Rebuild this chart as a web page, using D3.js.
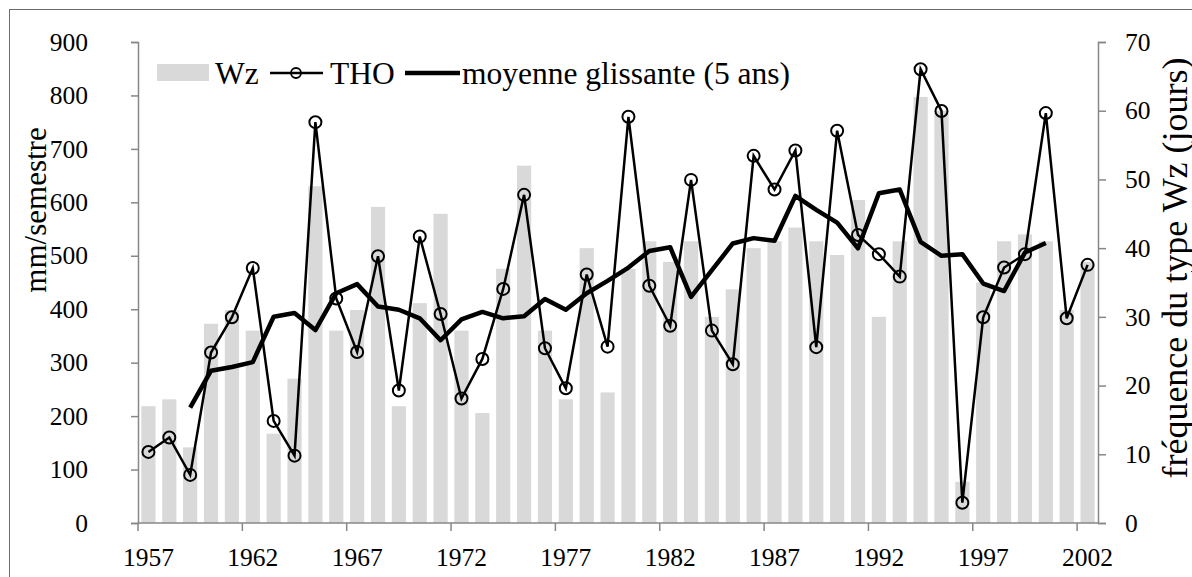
<!DOCTYPE html>
<html>
<head>
  <meta charset="utf-8">
  <script src="https://d3js.org/d3.v7.min.js"></script>
  <style>
    body { margin: 0; background: #fff; }
    text { font-family: "Liberation Serif", "Times New Roman", serif; fill: #000; }
  </style>
</head>
<body>
<script>
  // years (categories)
  var years = [1957,1958,1959,1960,1961,1962,1963,1964,1965,1966,1967,1968,1969,1970,1971,1972,
               1973,1974,1975,1976,1977,1978,1979,1980,1981,1982,1983,1984,1985,1986,1987,1988,
               1989,1990,1991,1992,1993,1994,1995,1996,1997,1998,1999,2000,2001,2002];

  // Wz frequency (days), right axis
  var wz = [17,18,11,29,31,28,13,21,49,28,31,46,17,32,45,28,16,37,52,28,18,40,19,37,
            41,38,41,30,34,40,41,43,41,39,47,30,41,62,60,6,35,41,42,41,31,38];

  // THO precipitation (mm/semestre), left axis
  var tho = [133,160,90,319,385,477,191,126,750,420,320,499,248,536,391,233,307,438,614,327,
             252,465,330,760,444,369,642,360,297,687,624,697,329,734,539,503,461,849,771,38,
             385,478,503,767,383,483];

  // moving average (5 years)
  var moy = [null,null,216,285,292,301,386,393,361,430,447,405,399,383,342,381,395,383,387,419,
             399,430,453,478,509,516,423,473,523,533,528,612,586,562,514,617,624,526,500,503,
             448,434,506,524,null,null];

  var leftTicks = [0,100,200,300,400,500,600,700,800,900];
  var rightTicks = [0,10,20,30,40,50,60,70];
  var labelYears = [1957,1962,1967,1972,1977,1982,1987,1992,1997,2002];

  var W = 1192, H = 577;
  var pLeft = 138, pRight = 1098, pTop = 42, pBottom = 523;

  var svg = d3.select("body").append("svg")
      .attr("width", W).attr("height", H);

  svg.append("rect").attr("x", 0).attr("y", 0).attr("width", W).attr("height", H).attr("fill", "#fff");
  // chart frame (clipped on right and bottom)
  svg.append("rect")
      .attr("x", 9.5).attr("y", 9.5).attr("width", 1220).attr("height", 620)
      .attr("fill", "none").attr("stroke", "#6b6b6b").attr("stroke-width", 1);

  var x = d3.scaleBand().domain(years).range([pLeft, pRight]).paddingInner(0.32).paddingOuter(0.16);
  var yL = d3.scaleLinear().domain([0, 900]).range([pBottom, pTop]);
  var yR = d3.scaleLinear().domain([0, 70]).range([pBottom, pTop]);
  var slot = function(d) { return x(d) - x.step() * x.paddingInner() / 2; };
  var cx = function(i) { return x(years[i]) + x.bandwidth() / 2; };

  // bars
  svg.append("g").selectAll("rect").data(wz).join("rect")
      .attr("x", function(d, i) { return x(years[i]); })
      .attr("y", function(d) { return yR(d); })
      .attr("width", x.bandwidth())
      .attr("height", function(d) { return yR(0) - yR(d); })
      .attr("fill", "#d9d9d9");

  var axisColor = "#878787";

  // left axis
  var gl = svg.append("g").attr("transform", "translate(" + pLeft + ",0)")
      .call(d3.axisLeft(yL).tickValues(leftTicks).tickSize(7).tickPadding(43));
  // right axis
  var gr = svg.append("g").attr("transform", "translate(" + pRight + ",0)")
      .call(d3.axisRight(yR).tickValues(rightTicks).tickSize(8).tickPadding(19));
  // bottom axis: labels centred on the year, tick marks on category edges
  var gb = svg.append("g").attr("transform", "translate(0," + pBottom + ")")
      .call(d3.axisBottom(x).tickValues(labelYears).tickSize(0).tickPadding(24.5));
  gb.select(".domain").remove();
  gb.append("line").attr("x1", pLeft).attr("x2", pRight).attr("y1", 0).attr("y2", 0);
  gb.selectAll(".edge").data(labelYears).join("line").attr("class", "edge")
      .attr("x1", slot).attr("x2", slot).attr("y1", 0).attr("y2", 8);

  [gl, gr, gb].forEach(function(g) {
    g.selectAll("path, line").attr("stroke", axisColor).attr("stroke-width", 1.5);
    g.selectAll("text").attr("font-size", 25.5).attr("fill", "#000");
  });

  // THO line with circles
  var lineL = d3.line()
      .defined(function(d) { return d != null; })
      .x(function(d, i) { return cx(i); })
      .y(function(d) { return yL(d); });

  svg.append("path").datum(tho).attr("d", lineL)
      .attr("fill", "none").attr("stroke", "#000").attr("stroke-width", 2.5);
  svg.append("g").selectAll("circle").data(tho).join("circle")
      .attr("cx", function(d, i) { return cx(i); })
      .attr("cy", function(d) { return yL(d); })
      .attr("r", 6)
      .attr("fill", "none").attr("stroke", "#000").attr("stroke-width", 2);

  // moving average
  svg.append("path").datum(moy).attr("d", lineL)
      .attr("fill", "none").attr("stroke", "#000").attr("stroke-width", 4.5)
      .attr("stroke-linejoin", "round");

  // axis titles
  svg.append("text")
      .attr("transform", "translate(46,210) rotate(-90)")
      .attr("text-anchor", "middle").attr("font-size", 31)
      .text("mm/semestre");
  svg.append("text")
      .attr("transform", "translate(1187,268) rotate(-90)")
      .attr("text-anchor", "middle").attr("font-size", 36)
      .text("fréquence du type Wz (jours)");

  // legend
  var lg = svg.append("g");
  var ly = 73;
  lg.append("rect").attr("x", 157).attr("y", 64).attr("width", 52).attr("height", 17).attr("fill", "#d9d9d9");
  lg.append("text").attr("x", 215).attr("y", 84).attr("font-size", 31.5).text("Wz");
  lg.append("line").attr("x1", 270).attr("x2", 323).attr("y1", ly).attr("y2", ly)
      .attr("stroke", "#000").attr("stroke-width", 2.5);
  lg.append("circle").attr("cx", 296).attr("cy", ly).attr("r", 5)
      .attr("fill", "none").attr("stroke", "#000").attr("stroke-width", 1.8);
  lg.append("text").attr("x", 330).attr("y", 84).attr("font-size", 31.5).text("THO");
  lg.append("line").attr("x1", 405).attr("x2", 460).attr("y1", ly).attr("y2", ly)
      .attr("stroke", "#000").attr("stroke-width", 4.5);
  lg.append("text").attr("x", 462).attr("y", 84).attr("font-size", 31.5).text("moyenne glissante (5 ans)");
</script>
</body>
</html>
